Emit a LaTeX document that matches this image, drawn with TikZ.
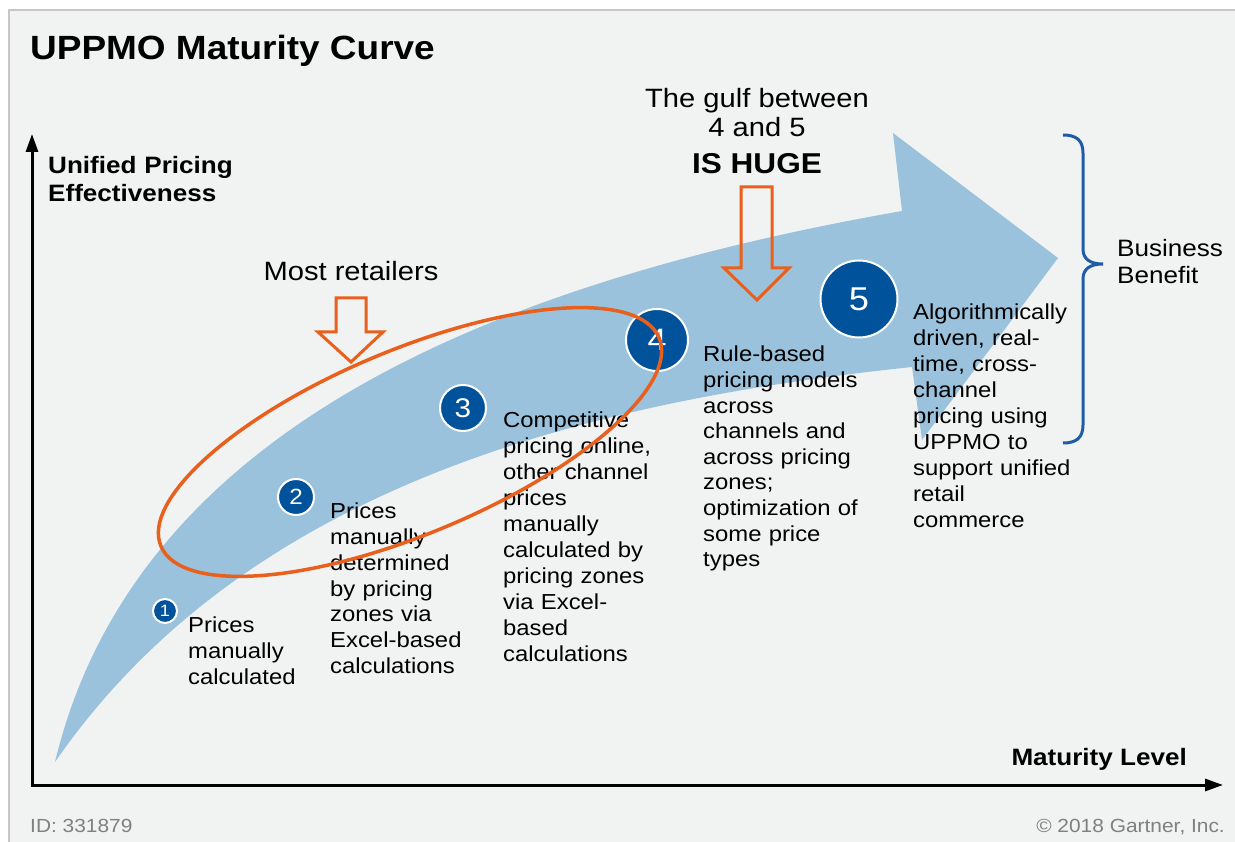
\documentclass[tikz,border=0pt]{standalone}
\usepackage{fontspec}
\setmainfont{Liberation Sans}[FakeStretch=1.1]
\usetikzlibrary{arrows.meta,positioning}

\definecolor{fondo}{HTML}{F1F2F2}
\definecolor{azulClaro}{HTML}{9BC2DC}
\definecolor{azulOscuro}{HTML}{00529B}
\definecolor{naranja}{HTML}{E8601C}
\definecolor{azulLlave}{HTML}{1F5CA8}
\definecolor{grisTexto}{HTML}{808080}

\begin{document}
\begin{tikzpicture}[x=1pt, y=-1pt, >={Triangle[length=18pt,width=12pt]}]
        % Definición de estilos
        \tikzstyle{circuloEtapa} = [circle, fill=azulOscuro, draw=white, line width=2pt, text=white, inner sep=0pt]
        \tikzstyle{textoEtapa} = [anchor=base west, inner sep=0pt, text width=200pt, align=left, font=\fontsize{21.7}{26}\selectfont]
        \tikzstyle{etiquetaEje} = [inner sep=0pt, align=left, font=\bfseries\fontsize{23.7}{28}\selectfont]
        \tikzstyle{flechaNaranja} = [draw=naranja, line width=3pt, line join=miter]
        \tikzstyle{nota} = [anchor=base, inner sep=0pt, font=\fontsize{26.5}{28}\selectfont]
        \tikzstyle{pie} = [inner sep=0pt, text=grisTexto, font=\fontsize{19}{22}\selectfont]

        % Fondo y marco
        \useasboundingbox (0,0) rectangle (1235,842);
        \fill[white] (0,0) rectangle (1235,842);
        \draw[fill=fondo, draw=black!22, line width=1.5pt] (9,10) rectangle (1245,852);

        % Título
        \node[anchor=base west, inner sep=0pt, font=\bfseries\fontsize{33.6}{40}\selectfont] (titulo) at (30,60) {UPPMO Maturity Curve};

        % Ejes
        \coordinate (origen) at (32,785);
        \coordinate (finY) at (32,134);
        \coordinate (finX) at (1223,785);
        \draw[<->, line width=3pt] (finY) -- (origen) -- (finX);
        \node[etiquetaEje, anchor=base west, text width=220pt] (ejeY) at (48,174) {Unified Pricing\\Effectiveness};
        \node[etiquetaEje, anchor=base east] (ejeX) at (1187,765) {Maturity Level};

        % Flecha de madurez
        \fill[azulClaro] (55,762) .. controls (130,450) and (450,290) .. (902,211)
            -- (893,133) -- (1058,258) -- (922,440) -- (912,367)
            .. controls (600,400) and (250,480) .. (55,762) -- cycle;

        % Etapas
        \node[circuloEtapa, minimum size=24pt, font=\fontsize{16.5}{16}\selectfont] (etapaUno) at (165,611) {1};
        \node[circuloEtapa, minimum size=36pt, font=\fontsize{22}{22}\selectfont] (etapaDos) at (296,497) {2};
        \node[circuloEtapa, minimum size=46pt, font=\fontsize{27}{27}\selectfont] (etapaTres) at (463,408) {3};
        \node[circuloEtapa, minimum size=62pt, font=\fontsize{31}{31}\selectfont] (etapaCuatro) at (657,340) {4};
        \node[circuloEtapa, minimum size=77pt, font=\fontsize{33}{33}\selectfont] (etapaCinco) at (859,299) {5};

        \node[textoEtapa] (textoUno) at (188,632) {Prices\\manually\\calculated};
        \node[textoEtapa] (textoDos) at (330,518) {Prices\\manually\\determined\\by pricing\\zones via\\Excel-based\\calculations};
        \node[textoEtapa] (textoTres) at (503,428) {Competitive\\pricing online,\\other channel\\prices\\manually\\calculated by\\pricing zones\\via Excel-\\based\\calculations};
        \node[textoEtapa, font=\fontsize{21.7}{25.6}\selectfont] (textoCuatro) at (703,362) {Rule-based\\pricing models\\across\\channels and\\across pricing\\zones;\\optimization of\\some price\\types};
        \node[textoEtapa] (textoCinco) at (913,320) {Algorithmically\\driven, real-\\time, cross-\\channel\\pricing using\\UPPMO to\\support unified\\retail\\commerce};

        % Beneficio
        \draw[azulLlave, line width=3pt] (1063,135) .. controls (1076,135) and (1083,140) .. (1083,153)
            -- (1083,249) .. controls (1083,259) and (1090,264) .. (1103,264)
            .. controls (1090,264) and (1083,269) .. (1083,279)
            -- (1083,425) .. controls (1083,438) and (1076,443) .. (1063,443);
        \coordinate (puntaLlave) at (1103,264);
        \node[inner sep=0pt, anchor=base west, text width=150pt, align=left, font=\fontsize{23.7}{27}\selectfont] (beneficio) at (1117,257) {Business\\Benefit};

        % Llamadas
        \node[nota] (mayoria) at (351,281) {Most retailers};
        \draw[flechaNaranja] (336,298) -- (366,298) -- (366,332) -- (383,332) -- (351,362) -- (318,332) -- (336,332) -- cycle;
        \node[nota] (brecha) at (757,108) {The gulf between};
        \node[nota] (brechaDos) at (757,137) {4 and 5};
        \node[nota, font=\bfseries\fontsize{28.7}{30}\selectfont] (brechaTres) at (757,174) {IS HUGE};
        \draw[flechaNaranja] (741,187) -- (772,187) -- (772,268) -- (789,268) -- (757,300) -- (724,268) -- (741,268) -- cycle;
        \draw[naranja, line width=3.5pt, rotate around={22.7:(410,442)}] (410,442) ellipse [x radius=270pt, y radius=92pt];

        % Pie
        \node[pie, anchor=base west] (idFigura) at (30,832) {ID: 331879};
        \node[pie, anchor=base east] (derechos) at (1225,832) {© 2018 Gartner, Inc.};
    \end{tikzpicture}
\end{document}
